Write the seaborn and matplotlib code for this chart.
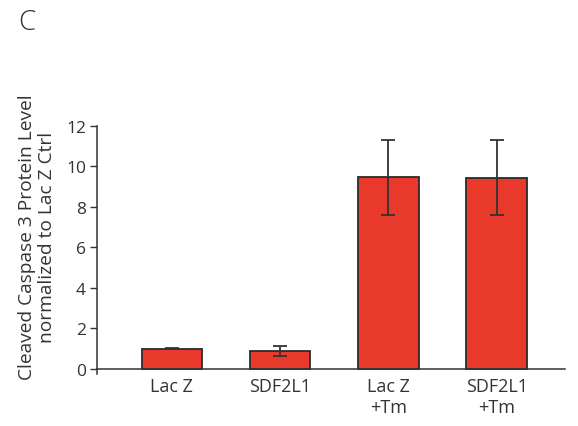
import matplotlib
matplotlib.use("Agg")
import matplotlib.pyplot as plt
import seaborn as sns
import pandas as pd

categories = ["Lac Z", "SDF2L1", "Lac Z\n+Tm", "SDF2L1\n+Tm"]
values = [1.0, 0.9, 9.47, 9.45]
errors = [0.02, 0.25, 1.85, 1.85]
y_ticks = [0, 2, 4, 6, 8, 10, 12]

sns.set_theme(style="white")
plt.rcParams["font.family"] = ["Open Sans", "DejaVu Sans"]

df = pd.DataFrame({"group": categories, "level": values})

fig = plt.figure(figsize=(5.78, 4.27), dpi=100)
ax = fig.add_axes([0.168, 0.1218, 0.8095, 0.5808])

sns.barplot(data=df, x="group", y="level", color="#E8392A", saturation=1,
            width=0.56, edgecolor="#2b2b2b", linewidth=1.3, errorbar=None, ax=ax)
ax.errorbar(range(len(values)), values, yerr=errors, fmt="none",
            ecolor="#333333", elinewidth=1.3, capsize=5, capthick=1.3)

ax.set_xlim(-0.69, 3.63)
ax.set_ylim(-0.25, 12)
ax.set_yticks(y_ticks)
ax.set_yticklabels([str(t) for t in y_ticks])
ax.set_xticks(range(len(categories)))
ax.set_xticklabels(categories, linespacing=1.7)
ax.tick_params(axis="x", length=0, pad=6, labelsize=13, labelcolor="#333333")
ax.tick_params(axis="y", left=True, length=5, width=1, color="#333333", pad=3,
               labelsize=12.5, labelcolor="#333333")

sns.despine(ax=ax)
for side in ("left", "bottom"):
    ax.spines[side].set_color("#333333")
    ax.spines[side].set_linewidth(1.1)
ax.spines["bottom"].set_position(("data", 0))
ax.spines["left"].set_bounds(-0.25, 12)

ax.set_xlabel("")
ax.set_ylabel("Cleaved Caspase 3 Protein Level\nnormalized to Lac Z Ctrl",
              fontsize=13.8, color="#333333", linespacing=1.15)
ax.yaxis.set_label_coords(-0.087, 0.556)

fig.text(0.032, 0.978, "C", fontsize=20, color="#333333", va="top",
         fontweight="light")

fig.savefig("out.png", dpi=100, facecolor="white")
